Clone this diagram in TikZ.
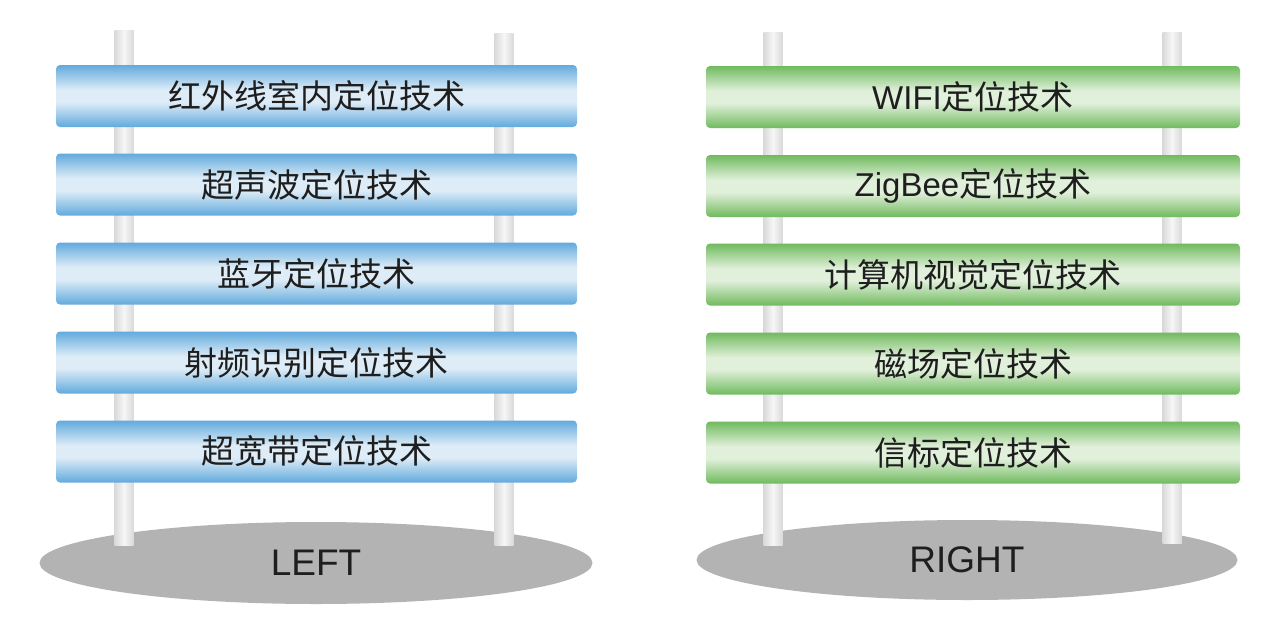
\documentclass[tikz,border=0pt]{standalone}
\usepackage{fontspec}
\setmainfont{Liberation Sans}
\newfontfamily\cjk{Noto Sans CJK SC}
\usetikzlibrary{shapes.geometric}
\definecolor{bdark}{HTML}{62AADD}
\definecolor{blight}{HTML}{DDECF7}
\definecolor{gdark}{HTML}{70BA5E}
\definecolor{glight}{HTML}{E0F0DA}
\definecolor{poleedge}{HTML}{D9D9D9}
\definecolor{polemid}{HTML}{F6F6F6}
\definecolor{base}{HTML}{B3B3B3}
\definecolor{txt}{HTML}{1E1E1E}
\pgfdeclareverticalshading{bluebarshade}{100bp}{color(0bp)=(bdark); color(25bp)=(bdark); color(45bp)=(blight); color(55bp)=(blight); color(75bp)=(bdark); color(100bp)=(bdark)}
\pgfdeclareverticalshading{greenbarshade}{100bp}{color(0bp)=(gdark); color(25bp)=(gdark); color(45bp)=(glight); color(55bp)=(glight); color(75bp)=(gdark); color(100bp)=(gdark)}
\tikzset{
  barbox/.style={rectangle, rounded corners=4pt, minimum height=62pt, inner sep=0pt, text=txt, font=\fontsize{33}{36}\selectfont},
  bluebar/.style={barbox, shading=bluebarshade, minimum width=521pt},
  greenbar/.style={barbox, shading=greenbarshade, minimum width=534pt},
  pole/.style={rectangle, inner sep=0pt, minimum width=19pt, left color=poleedge, right color=poleedge, middle color=polemid},
  basedisk/.style={ellipse, fill=base, inner sep=0pt, text=txt, font=\fontsize{37}{40}\selectfont},
}
\begin{document}
\begin{tikzpicture}[x=1pt, y=-1pt]
\useasboundingbox (0,0) rectangle (1280,627);
% bases
\node[basedisk, minimum width=553pt, minimum height=82pt] (lbase) at (316,563) {LEFT};
\node[basedisk, minimum width=541pt, minimum height=80pt] (rbase) at (967,560) {RIGHT};
% poles
\node[pole, minimum height=515pt] (lp1) at (124,287.5) {};
\node[pole, minimum height=512pt] (lp2) at (504,289) {};
\node[pole, minimum height=513pt] (rp1) at (773,288.5) {};
\node[pole, minimum height=511pt] (rp2) at (1172,287.5) {};
% left bars
\node[bluebar] (l1) at (316.5,96) {\cjk 红外线室内定位技术};
\node[bluebar] (l2) at (316.5,184.5) {\cjk 超声波定位技术};
\node[bluebar] (l3) at (316.5,273.5) {\cjk 蓝牙定位技术};
\node[bluebar] (l4) at (316.5,362.5) {\cjk 射频识别定位技术};
\node[bluebar] (l5) at (316.5,451.5) {\cjk 超宽带定位技术};
% right bars
\node[greenbar] (r1) at (973,97) {WIFI{\cjk 定位技术}};
\node[greenbar] (r2) at (973,186) {ZigBee{\cjk 定位技术}};
\node[greenbar] (r3) at (973,274.5) {\cjk 计算机视觉定位技术};
\node[greenbar] (r4) at (973,363.5) {\cjk 磁场定位技术};
\node[greenbar] (r5) at (973,452.5) {\cjk 信标定位技术};
\end{tikzpicture}
\end{document}
